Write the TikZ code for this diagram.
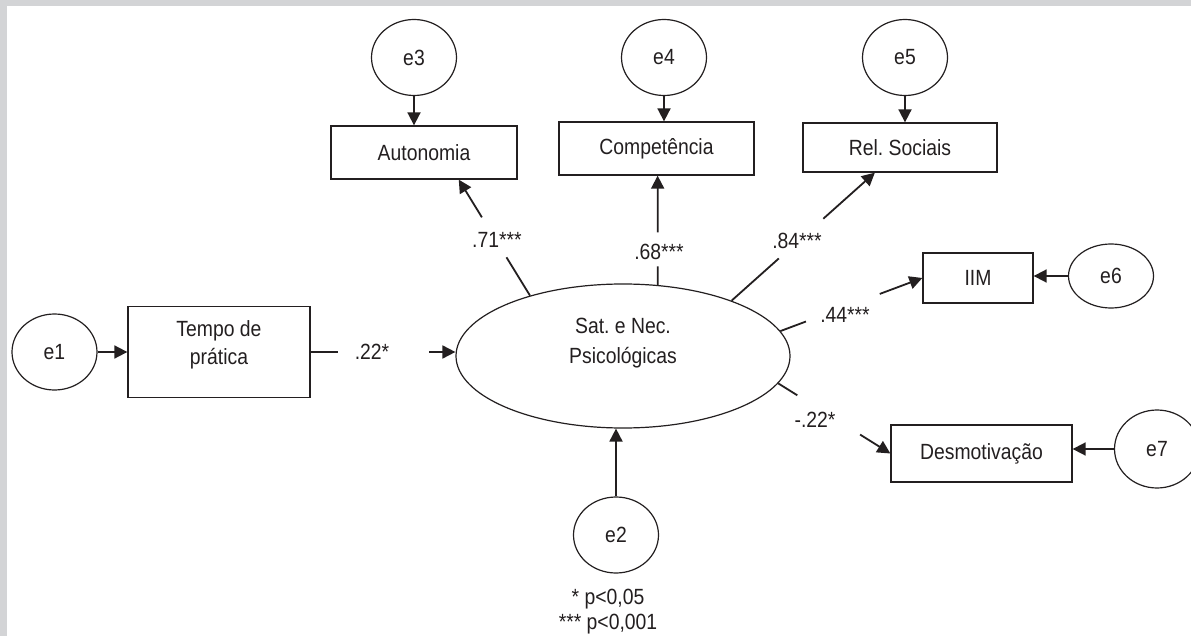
\documentclass[tikz,border=0pt]{standalone}
\usepackage{fontspec}
\setmainfont[FakeStretch=0.88]{Liberation Sans}
\usetikzlibrary{arrows.meta,calc,shapes.geometric}
\definecolor{PathInk}{RGB}{35,31,32}
\definecolor{FrameGray}{RGB}{211,212,214}
\frenchspacing

\begin{document}
\begin{tikzpicture}[x=1pt,y=-1pt,
  font=\fontsize{22}{28}\selectfont,text=PathInk,
  obs/.style={draw=PathInk,line width=1.3pt,rectangle,inner sep=0pt,minimum height=53pt},
  err/.style={draw=PathInk,line width=1.2pt,ellipse,inner sep=0pt,minimum width=85pt,minimum height=76pt},
  link/.style={draw=PathInk,line width=1.8pt},
  arr/.style={link,-{Triangle[length=13pt,width=13pt]}},
  coef/.style={inner sep=0pt}]
  % frame
  \fill[FrameGray] (0,0) rectangle (1191,636);
  \fill[white] (7,6) rectangle (1191,636);
  \useasboundingbox (0,0) rectangle (1191,636);

  % latent factor and observed variables
  \node[draw=PathInk,line width=1.2pt,ellipse,inner sep=0pt,minimum width=334pt,minimum height=144pt] (sat) at (623,356) {};
  \node[align=center,font=\fontsize{22}{30}\selectfont] at ([yshift=13pt]sat.center) {Sat. e Nec.\\Psicológicas};
  \node[obs,minimum width=182pt,minimum height=91pt] (tempo) at (219,352) {};
  \node[align=center] at ([yshift=7pt]tempo.center) {Tempo de\\prática};
  \node[obs,minimum width=186pt] (auto) at (424,152.5) {Autonomia};
  \node[obs,minimum width=195pt] (comp) at (656.5,148.5) {Competência};
  \node[obs,minimum width=194pt,minimum height=49pt] (rel) at (900,147.5) {Rel. Sociais};
  \node[obs,minimum width=110pt,minimum height=50pt] (iim) at (978,278) {IIM};
  \node[obs,minimum width=181pt,minimum height=57pt] (desm) at (981.5,453.5) {Desmotivação};

  % error terms
  \node[err] (e1) at (54.5,352) {e1};
  \node[err] (e2) at (616,535) {e2};
  \node[err] (e3) at (414,57.5) {e3};
  \node[err] (e4) at (664,57.5) {e4};
  \node[err] (e5) at (905,57.5) {e5};
  \node[err,minimum height=64pt] (e6) at (1111,276) {e6};
  \node[err,minimum height=78pt] (e7) at (1157,449) {e7};

  \draw[arr] (e1) -- (tempo);
  \draw[arr] (e2) -- (e2 |- sat.south);
  \draw[arr] (e3) -- (e3 |- auto.north);
  \draw[arr] (e4) -- (e4 |- comp.north);
  \draw[arr] (e5) -- (e5 |- rel.north);
  \draw[arr] (e6) -- (e6 -| iim.east);
  \draw[arr] (e7) -- (e7 -| desm.east);

  % paths, broken where the coefficient sits
  \foreach \src/\dst/\a/\b in {tempo.east/tempo.east -| sat.west/.19/.82,
      sat.147/auto.-38/.33/.675, sat.64/sat.64 |- comp.south/.17/.48,
      sat.27/rel.225/.33/.64, sat.9.6/iim.west/.18/.7, sat.-10/desm.west/.17/.73}
  {
    \draw[link] (\src) -- ($(\src)!\a!(\dst)$);
    \draw[arr] ($(\src)!\b!(\dst)$) -- (\dst);
  }
  \node[coef] (c22) at (372,352) {.22*};
  \node[coef] (c71) at (497,240) {.71***};
  \node[coef] (c68) at (659,252) {.68***};
  \node[coef] (c84) at (797,241) {.84***};
  \node[coef] (c44) at (845,315) {.44***};
  \node[coef] (c22n) at (815,420) {-.22*};

  % significance note
  \node[align=center,font=\fontsize{22}{25}\selectfont] (note) at (608,612) {* p<0,05\\*** p<0,001};
\end{tikzpicture}
\end{document}
